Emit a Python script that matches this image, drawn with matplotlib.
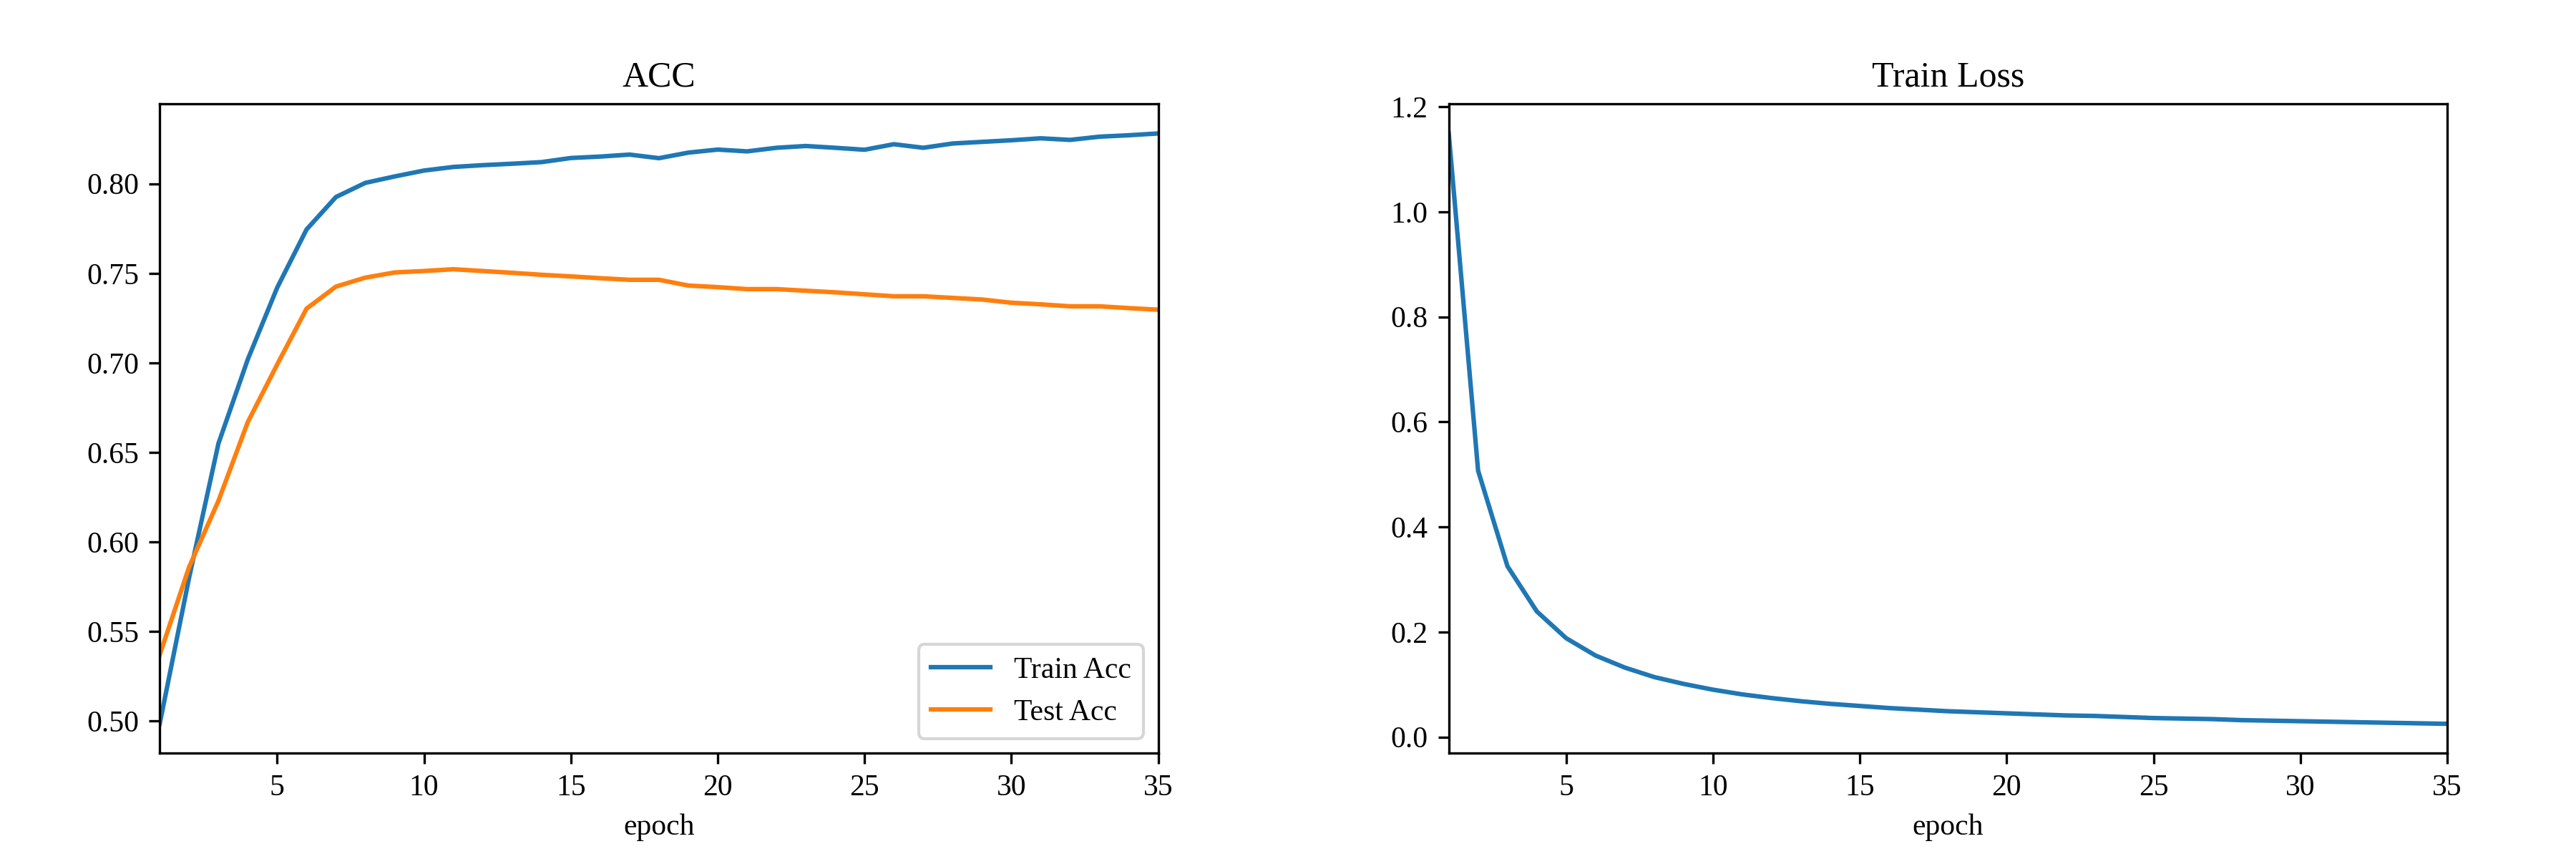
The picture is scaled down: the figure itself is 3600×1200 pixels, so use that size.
import matplotlib
matplotlib.use("Agg")
import matplotlib.pyplot as plt
import numpy as np

plt.rcParams['font.family'] = ['Liberation Serif', 'DejaVu Serif']

epochs = np.arange(1, 36)

train_acc = [0.4985, 0.580, 0.655, 0.702, 0.742, 0.7745, 0.7926, 0.8005, 0.8041, 0.8074,
             0.8094, 0.8104, 0.8112, 0.8121, 0.8144, 0.8152, 0.8163, 0.8143, 0.8174, 0.8191,
             0.8181, 0.8201, 0.8211, 0.8201, 0.8190, 0.8221, 0.8201, 0.8225, 0.8234, 0.8243,
             0.8254, 0.8245, 0.8263, 0.8271, 0.8281]
test_acc = [0.537, 0.586, 0.623, 0.667, 0.6991, 0.7303, 0.7426, 0.7476, 0.7505, 0.7513,
            0.7523, 0.7513, 0.7503, 0.7492, 0.7483, 0.7473, 0.7464, 0.7464, 0.7432, 0.7423,
            0.7412, 0.7412, 0.7403, 0.7394, 0.7383, 0.7372, 0.7372, 0.7363, 0.7354, 0.7336,
            0.7327, 0.7316, 0.7316, 0.7306, 0.7297]
train_loss = [1.149, 0.507, 0.325, 0.239, 0.188, 0.155, 0.132, 0.114, 0.101, 0.090,
              0.081, 0.074, 0.068, 0.063, 0.059, 0.055, 0.052, 0.049, 0.047, 0.045,
              0.043, 0.041, 0.040, 0.038, 0.036, 0.035, 0.034, 0.032, 0.031, 0.030,
              0.029, 0.028, 0.027, 0.026, 0.025]

fig, (ax1, ax2) = plt.subplots(1, 2, figsize=(12, 4))
fig.subplots_adjust(left=0.062, right=0.950, top=0.879, bottom=0.123, wspace=0.291)

ax1.plot(epochs, train_acc, label='Train Acc')
ax1.plot(epochs, test_acc, label='Test Acc')
ax1.set_xlim(1, 35)
ax1.set_title('ACC')
ax1.set_xlabel('epoch')
ax1.legend(loc='lower right')

ax2.plot(epochs, train_loss)
ax2.set_xlim(1, 35)
ax2.set_title('Train Loss')
ax2.set_xlabel('epoch')

plt.savefig('out.png', dpi=300)
